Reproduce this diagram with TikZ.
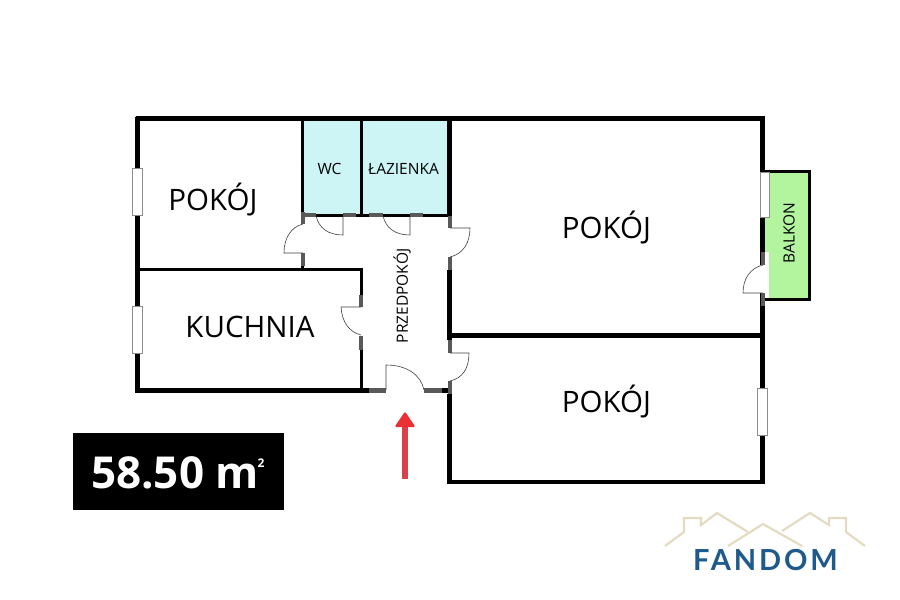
\documentclass[tikz,border=0pt]{standalone}
\usepackage{fontspec}
\setmainfont{Open Sans}
\newfontfamily\logofont[LetterSpace=10]{Lato}
\usetikzlibrary{arrows.meta}
\definecolor{wet}{HTML}{CDF5F6}
\definecolor{balk}{HTML}{B2F59E}
\definecolor{jamb}{HTML}{595959}
\definecolor{winline}{HTML}{8C8C8C}
\definecolor{arrowred}{HTML}{D8404A}
\definecolor{arrowhead}{HTML}{EA2F35}
\definecolor{roofc}{HTML}{E4DCC2}
\definecolor{navy}{HTML}{1F5A8C}
\tikzset{
  wallthick/.style={line width=4.5pt,black,line cap=butt},
  wallthin/.style={line width=3pt,black,line cap=butt},
  jambseg/.style={line width=4pt,jamb},
  doorline/.style={line width=0.6pt,black!75},
  windowbox/.style={draw=winline,fill=white,line width=1pt},
  roomlabel/.style={font=\fontsize{29.5}{32}\selectfont,black,inner sep=0},
  smalllabel/.style={font=\fontsize{15.5}{17}\selectfont,black,inner sep=0},
  roofline/.style={line width=2.2pt,roofc,line join=miter},
}
\begin{document}
\begin{tikzpicture}[x=1pt,y=-1pt]
\useasboundingbox (0,0) rectangle (900,600);
\fill[white] (0,0) rectangle (900,600);
% wet rooms and balcony
\fill[wet] (303,119) rectangle (449,215);
\fill[balk] (765,172) rectangle (809,299);
% outer walls
\draw[wallthick] (135.5,118.5) -- (765,118.5);
\draw[wallthick] (137.5,116.5) -- (137.5,392.5);
\draw[wallthick] (135.5,390.5) -- (369,390.5);
\draw[wallthick] (442,390.5) -- (452,390.5);
\draw[wallthick] (762.5,116.5) -- (762.5,484);
\draw[wallthick] (447.5,482) -- (764.5,482);
\draw[wallthick] (449.7,119) -- (449.7,216);
\draw[wallthick] (449.7,270) -- (449.7,340);
\draw[wallthick] (449.7,394) -- (449.7,484);
\draw[wallthick] (449,335.5) -- (763,335.5);
% inner walls
\draw[wallthin] (302.8,119) -- (302.8,212);
\draw[wallthin] (302.8,266) -- (302.8,270);
\draw[wallthin] (361,119) -- (361,216);
\draw[wallthin] (137,269.8) -- (362.5,269.8);
\draw[wallthin] (361,269) -- (361,295);
\draw[wallthin] (361,350) -- (361,391);
\draw[wallthin] (303,215.3) -- (449,215.3);
% jambs
\draw[jambseg] (303,212) -- (303,224);
\draw[jambseg] (303,253) -- (303,266);
\draw[jambseg] (303,215.3) -- (316,215.3);
\draw[jambseg] (343,215.3) -- (356,215.3);
\draw[jambseg] (369,215.3) -- (383,215.3);
\draw[jambseg] (410,215.3) -- (423,215.3);
\draw[jambseg] (450,216) -- (450,228);
\draw[jambseg] (450,257) -- (450,270);
\draw[jambseg] (361,295) -- (361,307);
\draw[jambseg] (361,336) -- (361,350);
\draw[jambseg] (450,340) -- (450,353);
\draw[jambseg] (450,381) -- (450,394);
\draw[line width=4.5pt,jamb] (369,390.5) -- (386,390.5);
\draw[line width=4.5pt,jamb] (424,390.5) -- (442,390.5);
% doors
\draw[doorline] (343,216) -- (343,235) .. controls (328,235) and (319,228) .. (316,216);
\draw[doorline] (410,216) -- (410,235) .. controls (395,235) and (386,228) .. (383,216);
\draw[doorline] (303,253) -- (284,253) .. controls (284,238) and (291,227) .. (303,224);
\draw[doorline] (450,228) -- (470,228) .. controls (470,243) and (463,254) .. (450,257);
\draw[doorline] (361,307) -- (341,307) .. controls (342,322) and (349,332) .. (361,335);
\draw[doorline] (450,353) -- (469,353) .. controls (469,368) and (463,378) .. (450,381);
\draw[doorline] (386,390) -- (386,365) .. controls (407,365) and (421,375) .. (424,390);
% balcony side
\draw[line width=3pt,black] (761,171.5) -- (810.5,171.5);
\draw[line width=3pt,black] (809,170) -- (809,300.5);
\draw[line width=3pt,black] (763,299) -- (810.5,299);
\fill[white] (764.5,252) rectangle (769,297.5);
\draw[jambseg] (762.5,252) -- (762.5,265);
\fill[white] (760,265) rectangle (769,293);
\draw[doorline] (763,293) -- (743,293) .. controls (743,279) and (750,268) .. (763,265);
\draw[jambseg] (762.5,293) -- (762.5,306);
% windows
\draw[windowbox] (760.5,172) rectangle (769,217);
\draw[windowbox] (132.5,168) rectangle (142,215);
\draw[windowbox] (132.5,306) rectangle (142,353);
\draw[windowbox] (757.5,388) rectangle (767,435);
% labels
\node[roomlabel] (pokoja) at (213,200) {POKÓJ};
\node[roomlabel] (kuchnia) at (250,327) {KUCHNIA};
\node[roomlabel] (pokojb) at (606.5,228) {POKÓJ};
\node[roomlabel] (pokojc) at (606.5,402) {POKÓJ};
\node[smalllabel] (wc) at (329.5,169) {WC};
\node[smalllabel] (laz) at (403.5,169) {ŁAZIENKA};
\node[smalllabel,rotate=90] (przed) at (402,296) {PRZEDPOKÓJ};
\node[smalllabel,rotate=90] (balkon) at (789,233) {BALKON};
% entrance arrow
\draw[line width=5.5pt,arrowred] (405,479) -- (405,425);
\fill[arrowhead,rounded corners=1.5pt] (405,411.5) -- (415.5,427) -- (394.5,427) -- cycle;
% area badge
\fill[black] (73,433) rectangle (284,510);
\node[font=\fontsize{44}{46}\selectfont\bfseries,white,inner sep=0,anchor=base west] (area) at (91,488) {58.50 m};
\node[font=\fontsize{12}{13}\selectfont\bfseries,white,inner sep=0] (sq) at (261,463) {2};
% logo
\draw[roofline] (665,546) -- (684,532) -- (684,518) -- (701,518) -- (701,525) -- (717,513) -- (748,532);
\draw[roofline] (728,546) -- (763,524) -- (802,546);
\draw[roofline] (782,531) -- (810,513) -- (829,525) -- (829,518) -- (846,518) -- (846,532) -- (865,546);
\node[font=\fontsize{29}{33}\selectfont\bfseries\logofont,navy,inner sep=0] (logo) at (765.5,560) {FANDOM};
\end{tikzpicture}
\end{document}
